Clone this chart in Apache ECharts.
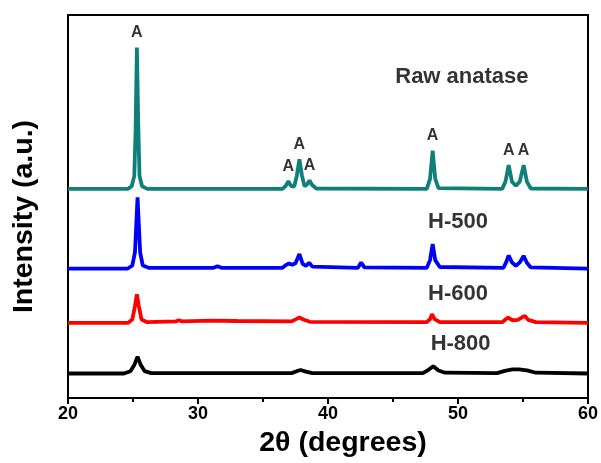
<!DOCTYPE html>
<html><head><meta charset="utf-8">
<script src="https://cdn.jsdelivr.net/npm/echarts@6/dist/echarts.min.js"></script>
<style>html,body{margin:0;padding:0;background:#fff}#c{width:601px;height:463px}</style>
</head><body><div id="c"></div>
<script>
const xTicks = [20, 30, 40, 50, 60];
const rawAnatase = [[20,54.6],[24.6,54.6],[24.9,55.3],[25.1,58],[25.2,70],[25.3,91.5],[25.4,72],[25.5,58],[25.7,55.3],[26.1,54.6],[36.5,54.6],[36.75,55.4],[36.95,56.6],[37.15,55.4],[37.4,55.2],[37.6,58],[37.8,62.3],[38.0,58],[38.2,55.3],[38.4,55.8],[38.58,56.8],[38.78,55.6],[39.1,54.7],[47.6,54.6],[47.85,57.2],[48.05,64.6],[48.25,57.2],[48.5,54.8],[53.4,54.6],[53.65,56.5],[53.9,60.8],[54.15,56.5],[54.45,55.4],[54.75,56.5],[55.05,60.8],[55.3,56.5],[55.6,54.7],[60,54.6]];
const h500 = [[20,33.8],[24.6,33.8],[24.95,34.6],[25.15,38],[25.25,45],[25.35,52.4],[25.45,45],[25.55,38],[25.75,34.6],[26.2,34],[31.2,34],[31.5,34.4],[31.8,34],[36.5,34],[36.8,34.8],[37.0,35.1],[37.25,34.8],[37.5,35.2],[37.8,37.6],[38.05,35],[38.3,34.5],[38.55,35.3],[38.8,34.3],[42.3,34],[42.55,35.4],[42.8,34.1],[47.6,34],[47.85,36],[48.05,40.2],[48.25,36],[48.6,34.2],[53.5,34],[53.7,35.4],[53.9,37.2],[54.15,35.4],[54.45,34.5],[54.75,35.4],[55.05,37.1],[55.3,35.3],[55.6,34.1],[60,33.8]];
const h600 = [[20,19.6],[24.6,19.6],[24.95,20.5],[25.15,24],[25.3,27.1],[25.45,24],[25.65,20.5],[26.1,19.8],[28.3,20],[28.5,20.3],[28.8,20],[31,20.2],[33,20.1],[37.2,20],[37.55,20.6],[37.8,21.0],[38.1,20.5],[38.6,19.9],[47.6,19.8],[47.85,20.6],[48.0,21.9],[48.2,20.6],[48.6,19.8],[53.4,19.8],[53.65,20.5],[53.85,21.0],[54.2,20.3],[54.6,20.4],[54.9,21.0],[55.15,21.4],[55.4,20.4],[56,19.8],[60,19.6]];
const h800 = [[20,6.4],[24.3,6.4],[24.8,7],[25.1,8.6],[25.35,10.8],[25.6,8.6],[25.9,7],[26.4,6.5],[37.2,6.5],[37.6,7],[37.9,7.3],[38.3,6.9],[38.8,6.5],[47.3,6.5],[47.7,7.3],[48.1,8.3],[48.5,7.2],[49,6.6],[53,6.5],[53.6,7.1],[54.2,7.5],[54.7,7.5],[55.3,7.2],[56,6.6],[60,6.4]];
const peakLabels = [[25.3,91.5],[36.95,56.6],[37.8,62.3],[38.58,56.8],[48.05,64.6],[53.9,60.8],[55.05,60.8]];
const sampleNames = ['Raw anatase','H-500','H-600','H-800'];
const namePos = [[50.3,83.8],[50.0,46.0],[50.0,27.2],[50.2,14.1]];

const chart = echarts.init(document.getElementById('c'), null, {renderer:'canvas'});
const lineColors = ['#0f8078','#0000ff','#ff0000','#000000'];
const datasets = [rawAnatase, h500, h600, h800];
const font = 'Liberation Sans, Arial, sans-serif';
const series = datasets.map((d,i)=>({type:'line', data:d, showSymbol:false, symbol:'none', lineStyle:{color:lineColors[i], width:3.8}, z:2, animation:false}));
series.push({type:'scatter', data:peakLabels, symbolSize:0, animation:false, label:{show:true, position:'top', distance:7, formatter:'A', color:'#000', fontFamily:font, fontWeight:'bold', fontSize:16}});
series.push({type:'scatter', data:namePos.map((p,i)=>({value:p, name:sampleNames[i]})), symbolSize:0, animation:false, label:{show:true, position:'inside', formatter:'{b}', color:'#000', fontFamily:font, fontWeight:'bold', fontSize:22}});
chart.setOption({
  animation:false,
  grid:{left:68, right:11, top:15, bottom:65, show:true, borderColor:'#000', borderWidth:2},
  xAxis:{type:'value', min:20, max:60, interval:10,
    axisLine:{show:true, lineStyle:{color:'#000', width:2}},
    axisTick:{show:true, length:6, lineStyle:{color:'#000', width:2}},
    minorTick:{show:true, splitNumber:2, length:4, lineStyle:{color:'#000', width:2}},
    splitLine:{show:false},
    axisLabel:{color:'#000', fontFamily:font, fontWeight:'bold', fontSize:18, margin:7, formatter:v=>xTicks.includes(v)?String(v):''},
    name:'2θ (degrees)', nameLocation:'middle', nameGap:31,
    nameTextStyle:{color:'#000', fontFamily:font, fontWeight:'bold', fontSize:28.5, padding:[0,0,0,30]}},
  yAxis:{type:'value', min:0, max:100,
    axisLine:{show:true, lineStyle:{color:'#000', width:2}},
    axisTick:{show:false}, axisLabel:{show:false}, splitLine:{show:false},
    name:'Intensity (a.u.)', nameLocation:'middle', nameGap:29,
    nameTextStyle:{color:'#000', fontFamily:font, fontWeight:'bold', fontSize:28.5, padding:[0,20,0,0]}},
  series:series
});
</script></body></html>
